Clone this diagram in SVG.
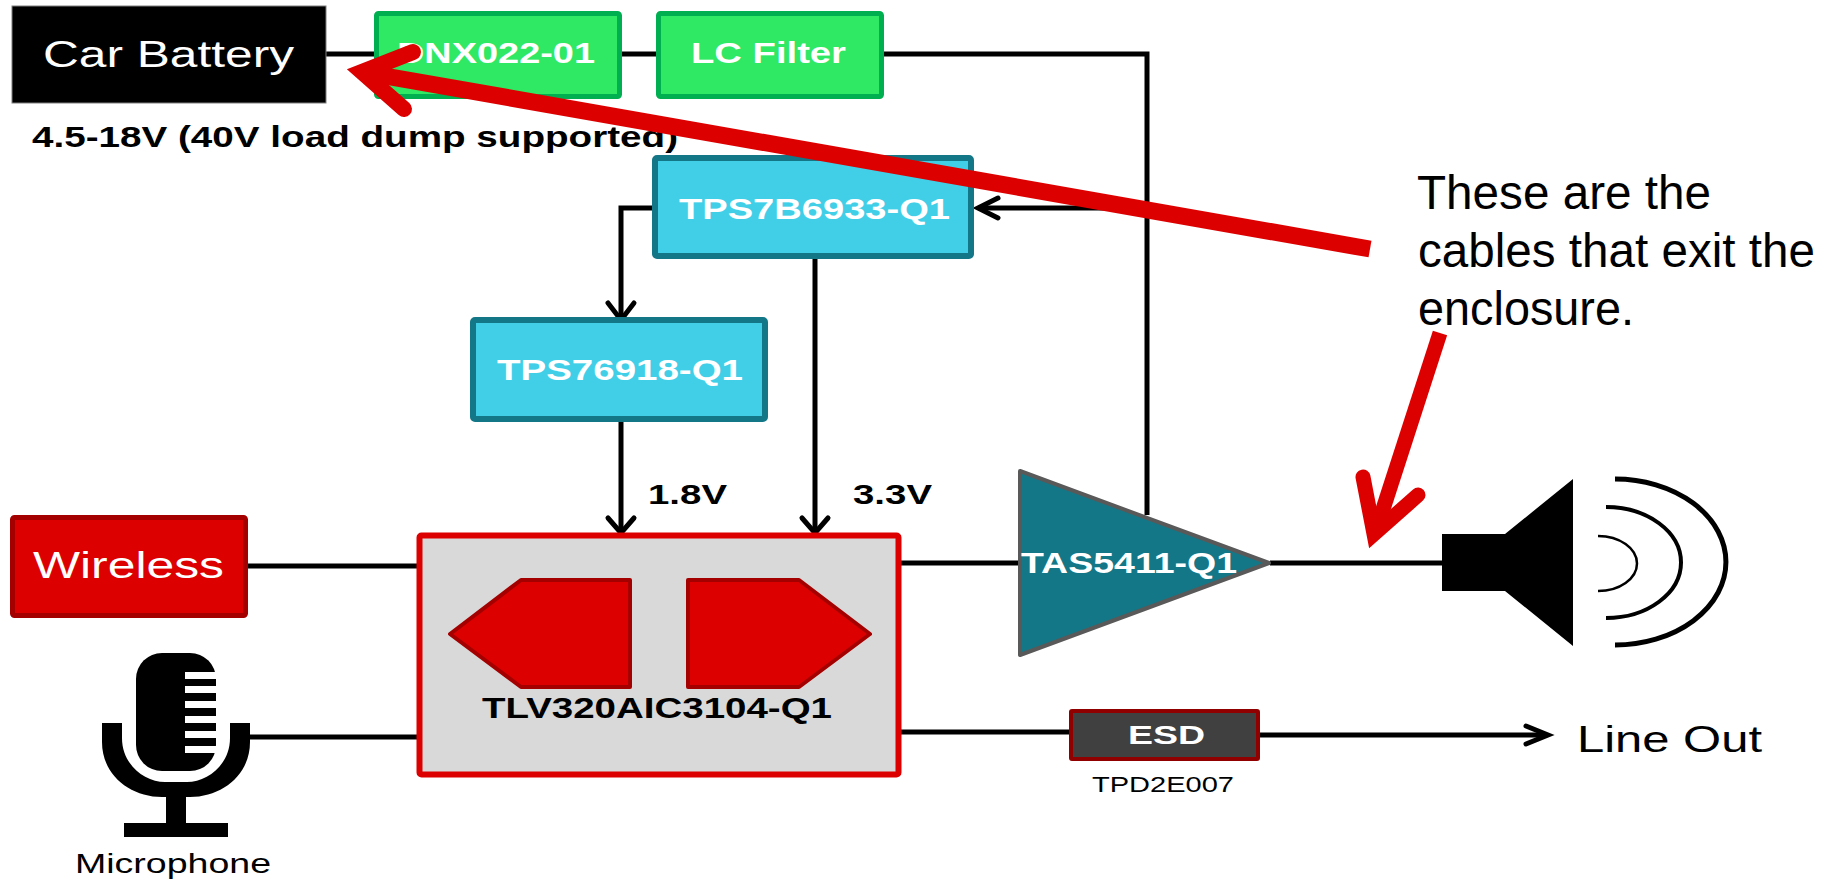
<svg xmlns="http://www.w3.org/2000/svg" width="1827" height="880" viewBox="0 0 1827 880">
<style>
text{font-family:"Liberation Sans",Arial,sans-serif;fill:#000}
.b{font-weight:700}
.w{fill:#fff}
.g{fill:#2fe863;stroke:#00b050;stroke-width:5}
.c{fill:#41cfe8;stroke:#147787;stroke-width:6}
.p{fill:#dd0000;stroke:#a50000;stroke-width:4;stroke-linejoin:round}
.l{fill:none;stroke:#000;stroke-width:5}
.h{fill:none;stroke:#000;stroke-width:5;stroke-linecap:round;stroke-linejoin:miter}
.r{fill:none;stroke:#dd0000;stroke-width:16;stroke-linecap:round;stroke-linejoin:miter;stroke-miterlimit:10}
.s{fill:none;stroke:#dd0000;stroke-width:17}
</style>
<g id="connectors">
<path class="l" d="M326,54H376M620,54H658M884,54H1147V515"/>
<path class="l" d="M1147,208H978"/>
<path class="h" d="M998,198L978,208L998,218"/>
<path class="l" d="M652,208H621V318"/>
<path class="h" d="M608,303L621,320L634,303"/>
<path class="l" d="M815,259V533"/>
<path class="h" d="M802,518L815,533L828,518"/>
<path class="l" d="M621,422V533"/>
<path class="h" d="M608,518L621,533L634,518"/>
<path class="l" d="M248,566H420M250,737H425"/>
<path class="l" d="M897,563H1022M897,732H1072"/>
<path class="l" d="M1258,735H1547"/>
<path class="h" d="M1526,726L1548,735L1526,744"/>
<path class="l" d="M1270,563H1444"/>
</g>
<g id="car-battery">
<rect x="12" y="6" width="314" height="97" fill="#000" stroke="#7f7f7f" stroke-width="1"/>
<text class="w" x="43" y="67" font-size="36" textLength="251" lengthAdjust="spacingAndGlyphs">Car Battery</text>
<text class="b" x="32" y="147" font-size="29" textLength="646" lengthAdjust="spacingAndGlyphs">4.5-18V (40V load dump supported)</text>
</g>
<g id="dnx022">
<rect class="g" x="376.500" y="13.500" width="243" height="83" rx="2"/>
<text class="b w" x="397" y="63" font-size="29" textLength="198" lengthAdjust="spacingAndGlyphs">DNX022-01</text>
</g>
<g id="lc-filter">
<rect class="g" x="658.500" y="13.500" width="223" height="83" rx="2"/>
<text class="b w" x="691" y="63" font-size="29" textLength="155" lengthAdjust="spacingAndGlyphs">LC Filter</text>
</g>
<g id="tps7b6933">
<rect class="c" x="655" y="158" width="316" height="98" rx="2"/>
<text class="b w" x="679" y="219" font-size="29" textLength="271" lengthAdjust="spacingAndGlyphs">TPS7B6933-Q1</text>
</g>
<g id="tps76918">
<rect class="c" x="473" y="320" width="292" height="99" rx="2"/>
<text class="b w" x="497" y="380" font-size="29" textLength="246" lengthAdjust="spacingAndGlyphs">TPS76918-Q1</text>
</g>
<g id="v18"><text class="b" x="648" y="504" font-size="28" textLength="79" lengthAdjust="spacingAndGlyphs">1.8V</text></g>
<g id="v33"><text class="b" x="853" y="504" font-size="28" textLength="79" lengthAdjust="spacingAndGlyphs">3.3V</text></g>
<g id="wireless">
<rect x="12.500" y="517.500" width="233" height="98" rx="2" fill="#dd0000" stroke="#a50000" stroke-width="5"/>
<text class="w" x="33" y="578" font-size="36" textLength="191" lengthAdjust="spacingAndGlyphs">Wireless</text>
</g>
<g id="microphone">
<rect x="136" y="653" width="80" height="118" rx="26" fill="#000"/>
<path fill="#fff" d="M185,672h32v7h-32zM185,686h32v7h-32zM185,701h32v7h-32zM185,716h32v7h-32zM185,731h32v7h-32zM185,746h32v7h-32z"/>
<path fill="#000" d="M102,723H122V738C122,765 145,782 165,782H187C207,782 230,765 230,738V723H250V742C250,775 222,797 190,797H186V823H228V837H124V823H166V797H162C130,797 102,775 102,742Z"/>
<text x="75" y="873" font-size="27" textLength="196" lengthAdjust="spacingAndGlyphs">Microphone</text>
</g>
<g id="tlv320">
<rect x="419.500" y="535.500" width="479" height="239" rx="2" fill="#d9d9d9" stroke="#dd0000" stroke-width="6"/>
<path class="p" d="M521,580H630V687H521L450,634Z"/>
<path class="p" d="M688,580H799L870,634L799,687H688Z"/>
<text class="b" x="482" y="718" font-size="29" textLength="350" lengthAdjust="spacingAndGlyphs">TLV320AIC3104-Q1</text>
</g>
<g id="tas5411">
<path d="M1020,471L1269,563L1020,655Z" fill="#147787" stroke="#595959" stroke-width="4" stroke-linejoin="round"/>
<text class="b w" x="1021" y="573" font-size="29" textLength="216" lengthAdjust="spacingAndGlyphs">TAS5411-Q1</text>
</g>
<g id="speaker">
<path fill="#000" d="M1442,534H1505L1573,479V646L1505,591H1442Z"/>
<path fill="none" stroke="#000" stroke-width="2.500" d="M1598,536A39,27.500 0 0 1 1598,591"/>
<path fill="none" stroke="#000" stroke-width="4" d="M1606,507A75,55.500 0 0 1 1606,618"/>
<path fill="none" stroke="#000" stroke-width="5" d="M1615,479A111,83 0 0 1 1615,645"/>
</g>
<g id="esd">
<rect x="1071" y="711" width="187" height="48" rx="1" fill="#404040" stroke="#900000" stroke-width="4"/>
<text class="b w" x="1128" y="744" font-size="26" textLength="77" lengthAdjust="spacingAndGlyphs">ESD</text>
<text x="1092" y="792" font-size="22" fill="#222" textLength="142" lengthAdjust="spacingAndGlyphs">TPD2E007</text>
</g>
<g id="line-out"><text x="1577" y="752" font-size="36" textLength="185" lengthAdjust="spacingAndGlyphs">Line Out</text></g>
<g id="note">
<text x="1417" y="209" font-size="47.500" textLength="294" lengthAdjust="spacingAndGlyphs">These are the</text>
<text x="1418" y="267" font-size="47.500" textLength="397" lengthAdjust="spacingAndGlyphs">cables that exit the</text>
<text x="1418" y="325" font-size="47.500" textLength="216" lengthAdjust="spacingAndGlyphs">enclosure.</text>
</g>
<g id="callouts">
<path class="s" d="M1370,249L362,72"/>
<path class="r" d="M413,52L362,72L404,109"/>
<path class="s" d="M1440,333L1375,534" style="stroke-width:15"/>
<path class="r" d="M1363,477L1374,534L1418,495" style="stroke-width:15"/>
</g>
</svg>
